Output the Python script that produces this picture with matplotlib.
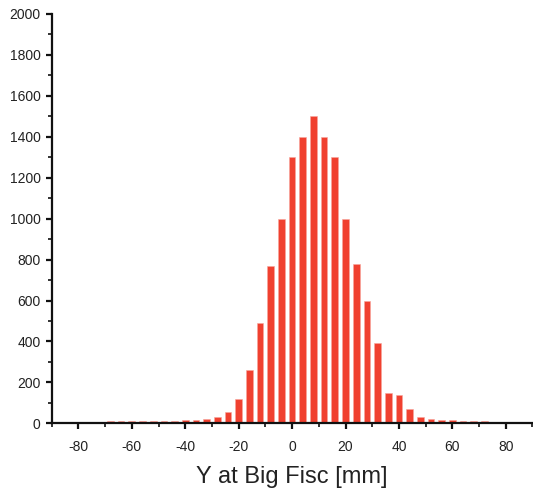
import matplotlib
matplotlib.use("Agg")
import matplotlib.pyplot as plt
from matplotlib.ticker import MultipleLocator

BAR_COLOR = "#f0402f"
TEXT_COLOR = "#222222"

# bin centres [mm] and counts
centers = [-72, -68, -64, -60, -56, -52, -48, -44, -40, -36, -32, -28, -24, -20,
           -16, -12, -8, -4, 0, 4, 8, 12, 16, 20, 24, 28, 32, 36, 40, 44,
           48, 52, 56, 60, 64, 68, 72]
counts = [7, 9, 11, 11, 11, 11, 11, 11, 15, 16, 21, 30, 55, 118,
          260, 490, 770, 1000, 1300, 1400, 1500, 1400, 1300, 1000, 780, 600, 391, 147, 140, 68,
          31, 23, 14, 14, 13, 13, 11]
x_label = "Y at Big Fisc [mm]"


def main():
    plt.rcParams["font.family"] = ["Liberation Sans", "DejaVu Sans"]
    plt.rcParams["axes.unicode_minus"] = False

    fig = plt.figure(figsize=(5.33, 4.94), dpi=100)
    ax = fig.add_axes([0.097, 0.1431, 0.902, 0.8286])

    ax.bar(centers, counts, width=2.5, color=BAR_COLOR, edgecolor="#f7a59c",
           linewidth=0.4, zorder=2)

    ax.set_xlim(-90, 90)
    ax.set_ylim(0, 2000)
    ax.xaxis.set_major_locator(MultipleLocator(20))
    ax.xaxis.set_minor_locator(MultipleLocator(10))
    ax.yaxis.set_major_locator(MultipleLocator(200))
    ax.yaxis.set_minor_locator(MultipleLocator(100))

    for side in ("top", "right"):
        ax.spines[side].set_visible(False)
    for side in ("left", "bottom"):
        ax.spines[side].set_linewidth(1.6)
        ax.spines[side].set_color("#111111")
        ax.spines[side].set_zorder(3)

    ax.tick_params(which="major", direction="out", length=4, width=1.6,
                   color="#111111", labelsize=10, labelcolor=TEXT_COLOR, pad=4)
    ax.tick_params(which="minor", direction="out", length=3, width=1.2, color="#111111")
    ax.tick_params(axis="x", which="major", pad=8)

    ax.set_xlabel(x_label, fontsize=17, color=TEXT_COLOR, labelpad=9)

    fig.savefig("out.png", dpi=100, facecolor="white")
    plt.close(fig)


if __name__ == "__main__":
    main()
